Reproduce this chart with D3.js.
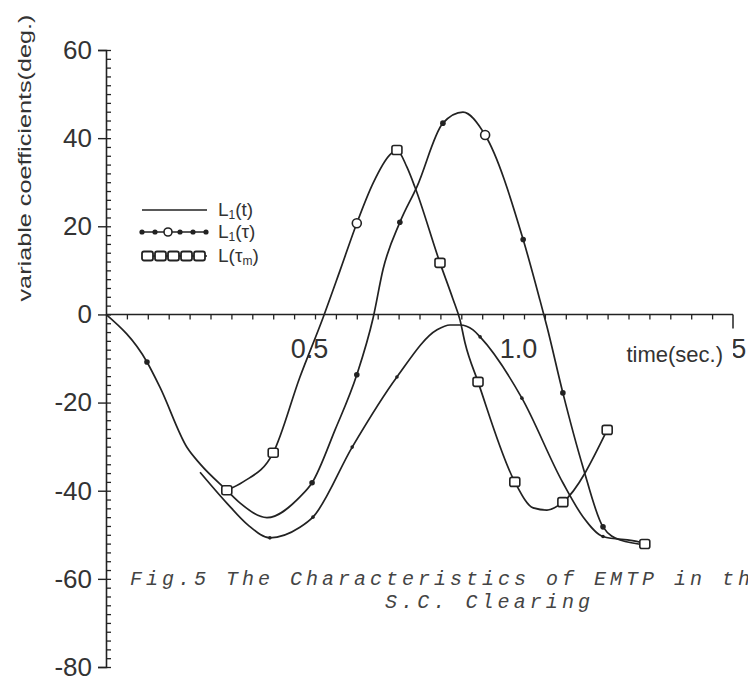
<!DOCTYPE html>
<html>
<head>
<meta charset="utf-8">
<script src="https://cdn.jsdelivr.net/npm/d3@7"></script>
<style>
  body { margin: 0; background: #fff; }
  svg { display: block; }
</style>
</head>
<body>
<div id="chart"></div>
<script>
// values: [time (s), angle (deg)]
const curveL1t = [
  [0.225, -35.8], [0.289, -42.8], [0.340, -47.8], [0.392, -50.7], [0.464, -48.3],
  [0.495, -46.0], [0.589, -30.1], [0.696, -14.2], [0.792, -3.5], [0.823, -2.4],
  [0.847, -2.4], [0.878, -3.5], [0.895, -5.1], [0.995, -19.0], [1.093, -38.2],
  [1.141, -45.9], [1.189, -50.4], [1.278, -51.7], [1.289, -52.1]
];
const curveL1tau = [
  [0, 0], [0.098, -10.8], [0.129, -16.5], [0.194, -30.2], [0.225, -33.9],
  [0.289, -39.9], [0.321, -42.8], [0.385, -46.1], [0.464, -41.4], [0.493, -38.2],
  [0.548, -26.2], [0.600, -13.7], [0.639, -0.8], [0.663, 10.3], [0.703, 20.9],
  [0.744, 29.0], [0.806, 43.4], [0.854, 45.9], [0.907, 40.7], [0.998, 17.0],
  [1.038, 3.3], [1.055, -2.8], [1.093, -17.8], [1.141, -34.6], [1.189, -48.2],
  [1.230, -51.2], [1.294, -52.3]
];
const curveLtaum = [
  [0.289, -39.9], [0.328, -38.0], [0.400, -31.4], [0.464, -14.2], [0.519, -0.8],
  [0.560, 10.0], [0.600, 20.7], [0.639, 29.8], [0.679, 36.2], [0.696, 37.3],
  [0.720, 33.4], [0.739, 28.9], [0.799, 11.7], [0.830, 3.5], [0.847, -1.3],
  [0.859, -6.5], [0.890, -15.3], [0.978, -38.0], [1.022, -43.9], [1.055, -44.4],
  [1.093, -42.6], [1.199, -26.2]
];

// where the marks sit on each curve
const markersL1t = [[0.392, -50.7], [0.495, -46.0], [0.589, -30.1], [0.696, -14.2], [0.895, -5.1], [0.995, -19.0], [1.189, -50.4]];
const markersL1tau = [[0.098, -10.8], [0.493, -38.2], [0.600, -13.7], [0.703, 20.9], [0.806, 43.4], [0.998, 17.0], [1.093, -17.8], [1.189, -48.2]];
const circlesL1tau = [[0.907, 40.7]];
const squaresLtaum = [[0.289, -39.9], [0.400, -31.4], [0.696, 37.3], [0.799, 11.7], [0.890, -15.3], [0.978, -38.0], [1.093, -42.6], [1.199, -26.2], [1.289, -52.1]];
const circlesLtaum = [[0.600, 20.7]];

const yTicks = [60, 40, 20, 0, -20, -40, -60, -80];
const xTickLabels = [0.5, 1.0, 1.5];

const width = 748, height = 685;
const ink = '#222';

const svg = d3.select('#chart').append('svg')
  .attr('width', width).attr('height', height)
  .style('font-family', '"Liberation Sans", Arial, sans-serif');

const x = d3.scaleLinear().domain([0, 1.5]).range([106, 733]);
const y = d3.scaleLinear().domain([-80, 60]).range([667, 50]);

// y axis: labelled majors to the left, minor ladder to the right
svg.append('g')
  .attr('transform', `translate(${x(0)},0)`)
  .call(d3.axisLeft(y).tickValues(yTicks).tickSize(8).tickPadding(6).tickFormat(d => String(d)))
  .call(g => g.select('.domain').attr('stroke', ink).attr('stroke-width', 1.6))
  .call(g => g.selectAll('.tick line').attr('stroke', ink).attr('stroke-width', 1.4))
  .call(g => g.selectAll('text').attr('font-size', 26).attr('fill', '#333'));

svg.append('g')
  .attr('transform', `translate(${x(0)},0)`)
  .call(d3.axisRight(y).tickValues(d3.range(-80, 61, 2)).tickSize(5).tickFormat(''))
  .call(g => g.select('.domain').remove())
  .call(g => g.selectAll('.tick line').attr('stroke', ink).attr('stroke-width', 1.3));

// x axis along zero
svg.append('g')
  .attr('transform', `translate(0,${y(0)})`)
  .call(d3.axisBottom(x).tickValues(d3.range(1, 30).map(i => i * 0.05)).tickSize(5).tickFormat(''))
  .call(g => g.select('.domain').attr('stroke', ink).attr('stroke-width', 1.6).attr('d', `M${x(0)},0H${x(1.5)}`))
  .call(g => g.selectAll('.tick line').attr('stroke', ink).attr('stroke-width', 1.3));

svg.append('g')
  .attr('transform', `translate(0,${y(0)})`)
  .call(d3.axisBottom(x).tickValues(xTickLabels).tickSize(0).tickPadding(24).tickFormat(d3.format('.1f')))
  .call(g => g.select('.domain').remove())
  .call(g => g.selectAll('text').attr('font-size', 27).attr('fill', '#333').attr('dx', -6));

svg.append('line')
  .attr('x1', x(1.5)).attr('x2', x(1.5))
  .attr('y1', y(0)).attr('y2', y(0) + 14)
  .attr('stroke', ink).attr('stroke-width', 1.5);

// axis title sits over the first part of the last tick label, as in the scan
svg.append('rect')
  .attr('x', 611).attr('y', 338).attr('width', 122).attr('height', 32)
  .attr('fill', '#fff');
svg.append('text')
  .attr('x', 723).attr('y', 362)
  .attr('text-anchor', 'end')
  .attr('font-size', 22).attr('fill', '#333')
  .text('time(sec.)');

svg.append('text')
  .attr('transform', 'translate(31,158) rotate(-90)')
  .attr('text-anchor', 'middle')
  .attr('font-size', 18).attr('fill', '#333')
  .attr('textLength', 287).attr('lengthAdjust', 'spacingAndGlyphs')
  .text('variable coefficients(deg.)');

// curves
const line = d3.line().x(d => x(d[0])).y(d => y(d[1])).curve(d3.curveMonotoneX);
[curveL1t, curveL1tau, curveLtaum].forEach(c => {
  svg.append('path').datum(c)
    .attr('d', line)
    .attr('fill', 'none').attr('stroke', ink).attr('stroke-width', 1.7);
});

svg.append('g').selectAll('circle').data(markersL1t).join('circle')
  .attr('cx', d => x(d[0])).attr('cy', d => y(d[1])).attr('r', 1.8).attr('fill', ink);
svg.append('g').selectAll('circle').data(markersL1tau).join('circle')
  .attr('cx', d => x(d[0])).attr('cy', d => y(d[1])).attr('r', 2.8).attr('fill', ink);
svg.append('g').selectAll('circle').data(circlesL1tau.concat(circlesLtaum)).join('circle')
  .attr('cx', d => x(d[0])).attr('cy', d => y(d[1])).attr('r', 4.5)
  .attr('fill', '#fff').attr('stroke', ink).attr('stroke-width', 1.6);
svg.append('g').selectAll('rect').data(squaresLtaum).join('rect')
  .attr('x', d => x(d[0]) - 5).attr('y', d => y(d[1]) - 4.5)
  .attr('width', 10).attr('height', 9).attr('rx', 2)
  .attr('fill', '#fff').attr('stroke', ink).attr('stroke-width', 1.6);

// legend
const legend = svg.append('g').attr('transform', 'translate(142,0)');
const rows = [210, 232, 256];
rows.forEach(ry => legend.append('line')
  .attr('x1', 0).attr('x2', 65).attr('y1', ry).attr('y2', ry)
  .attr('stroke', ink).attr('stroke-width', 1.7));
legend.selectAll('.dot').data([0, 13, 38, 51, 64]).join('circle')
  .attr('cx', d => d).attr('cy', rows[1]).attr('r', 2.6).attr('fill', ink);
legend.append('circle').attr('cx', 26).attr('cy', rows[1]).attr('r', 4)
  .attr('fill', '#fff').attr('stroke', ink).attr('stroke-width', 1.6);
legend.selectAll('.sq').data([0, 13, 26, 39, 52]).join('rect')
  .attr('x', d => d).attr('y', rows[2] - 4.5).attr('width', 11).attr('height', 9).attr('rx', 2)
  .attr('fill', '#fff').attr('stroke', ink).attr('stroke-width', 1.8);

const labels = [['L', '1', '(t)', ''], ['L', '1', '(τ)', ''], ['L', '', '(τ', 'm', ')']];
labels.forEach((lab, i) => {
  const t = legend.append('text')
    .attr('x', 76).attr('y', rows[i] + 6)
    .attr('font-size', 19).attr('fill', '#333');
  t.append('tspan').text(lab[0]);
  if (lab[1]) t.append('tspan').attr('font-size', 12).attr('dy', 3).text(lab[1]);
  t.append('tspan').attr('dy', lab[1] ? -3 : 0).text(lab[2]);
  if (lab[3]) {
    t.append('tspan').attr('font-size', 12).attr('dy', 3).text(lab[3]);
    t.append('tspan').attr('dy', -3).text(lab[4]);
  }
});

// caption, typewriter italic
const cap = svg.append('g')
  .attr('font-family', '"Liberation Mono", "DejaVu Sans Mono", monospace')
  .attr('font-style', 'italic').attr('font-size', 20).attr('fill', '#444');
cap.append('text').attr('x', 130).attr('y', 585)
  .attr('textLength', 636).attr('lengthAdjust', 'spacing')
  .text('Fig.5 The Characteristics of EMTP in the');
cap.append('text').attr('x', 385).attr('y', 608)
  .attr('textLength', 205).attr('lengthAdjust', 'spacing')
  .text('S.C. Clearing');
</script>
</body>
</html>
